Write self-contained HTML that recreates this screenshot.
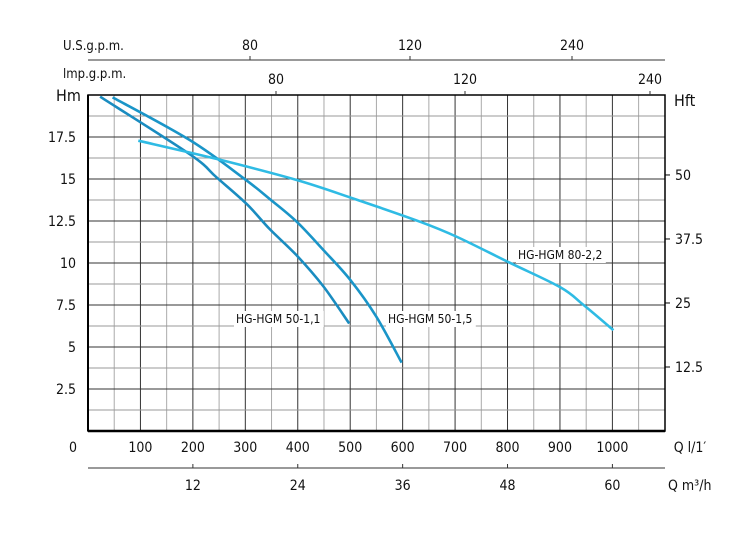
<!DOCTYPE html>
<html><head><meta charset="utf-8"><style>
body{margin:0;background:#fff}
svg{display:block;font-family:"DejaVu Sans Condensed","Liberation Sans",sans-serif}
</style></head><body>
<svg width="750" height="534" viewBox="0 0 750 534">
<g id="grid"></g><g id="axes"></g><g id="curves"></g><g id="labels"></g>
</svg>
<script>
const xTicks=[100,200,300,400,500,600,700,800,900,1000];
const yTicks=[2.5,5,7.5,10,12.5,15,17.5];
const hftTicks=[12.5,25,37.5,50];
const m3hTicks=[12,24,36,48,60];
const usgpmTicks=["80","120","240"];
const impgpmTicks=["80","120","240"];
const seriesNames=["HG-HGM 50-1,1","HG-HGM 50-1,5","HG-HGM 80-2,2"];
const s1Q=[23,195,245,303,347,398,449,498];
const s1H=[19.9,16.45,15.1,13.5,12.0,10.45,8.6,6.4];
const s2Q=[47,195,297,347,398,449,500,550,598];
const s2H=[19.86,17.3,15.04,13.8,12.46,10.77,9.0,6.8,4.07];
const s3Q=[96,248,398,500,633,704,802,901,945,1002];
const s3H=[17.28,16.17,14.94,13.9,12.46,11.55,10.05,8.55,7.5,6.0];
const L=88,R=665,T=95,B=431;
const X=q=>L+q*0.5244;
const Y=h=>B-h*16.8;
const NS="http://www.w3.org/2000/svg";
function mk(tag,attrs,parent,txt){const e=document.createElementNS(NS,tag);for(const k in attrs)e.setAttribute(k,attrs[k]);if(txt!==undefined)e.textContent=txt;document.getElementById(parent).appendChild(e);return e;}
for(let q=50;q<1100;q+=50){
 const g=mk('line',{x1:X(q),x2:X(q),y1:T,y2:B,stroke:q%100===0?'#333':'#aaa','stroke-width':1},'grid');
 
 
}
for(let i=1;i<16;i++){
 const h=i*1.25;
 const g=mk('line',{x1:L,x2:R,y1:Y(h),y2:Y(h),stroke:i%2===0?'#333':'#999','stroke-width':1},'grid');
 
 
}
const fr=mk('rect',{x:L,y:T,width:R-L,height:B-T,fill:'none',stroke:'#000','stroke-width':1.5},'axes');


const bl=mk('line',{x1:L,x2:R,y1:B,y2:B,stroke:'#000','stroke-width':2.5},'axes');


const ll=mk('line',{x1:L,x2:L,y1:T,y2:B,stroke:'#000','stroke-width':2},'axes');


const tl=mk('line',{x1:88,x2:665,y1:60,y2:60,stroke:'#333','stroke-width':1},'axes');


const bml=mk('line',{x1:88,x2:665,y1:468,y2:468,stroke:'#333','stroke-width':1},'axes');


function txt(x,y,s,anchor,name,size){const t=mk('text',{x:x,y:y,'text-anchor':anchor,fill:'#111','font-size':size||14},'labels',s);return t;}
xTicks.forEach(q=>txt(X(q),452,q,'middle','x-tick-label'));
txt(73,452,'0','middle','x-tick-label');
txt(690,452,'Q l/1\u2032','middle','x-axis-title');
yTicks.forEach(h=>txt(76,Y(h)+5,h,'end','y-tick-label'));
txt(56,101,'Hm','start','y-axis-title',16);
hftTicks.forEach(f=>{const y=B-f*0.3048*16.8;
 const tk=mk('line',{x1:R,x2:R+5,y1:y,y2:y,stroke:'#000'},'axes');
 
 
 txt(675,y+5,f,'start','hft-tick-label');});
txt(674,106,'Hft','start','hft-axis-title',16);
m3hTicks.forEach((v,i)=>{const tk=mk('line',{x1:X(v*1000/60),x2:X(v*1000/60),y1:464,y2:468,stroke:'#333'},'axes');
 
 
 txt(X(v*1000/60),490,v,'middle','m3h-tick-label');});
txt(668,490,'Q m\u00b3/h','start','m3h-axis-title');
const usPos=[250,410,572],impPos=[276,465,650];
usgpmTicks.forEach((v,i)=>{const tk=mk('line',{x1:usPos[i],x2:usPos[i],y1:56,y2:60,stroke:'#333'},'axes');
 
 
 txt(usPos[i],50,v,'middle','usgpm-tick-label');});
impgpmTicks.forEach((v,i)=>{const tk=mk('line',{x1:impPos[i],x2:impPos[i],y1:91,y2:95,stroke:'#333'},'axes');
 
 
 txt(impPos[i],84,v,'middle','impgpm-tick-label');});
txt(63,50,'U.S.g.p.m.','start','usgpm-axis-title',13);
txt(63,78,'lmp.g.p.m.','start','impgpm-axis-title',13);
function curve(Q,H,col,name){
 const P=Q.map((q,i)=>[X(q),Y(H[i])]);
 let d='M'+P[0][0].toFixed(1)+','+P[0][1].toFixed(1);
 for(let i=0;i<P.length-1;i++){
  const p0=P[i-1]||P[i],p1=P[i],p2=P[i+1],p3=P[i+2]||P[i+1];
  const c1=[p1[0]+(p2[0]-p0[0])/6,p1[1]+(p2[1]-p0[1])/6];
  const c2=[p2[0]-(p3[0]-p1[0])/6,p2[1]-(p3[1]-p1[1])/6];
  d+='C'+c1[0].toFixed(1)+','+c1[1].toFixed(1)+' '+c2[0].toFixed(1)+','+c2[1].toFixed(1)+' '+p2[0].toFixed(1)+','+p2[1].toFixed(1);
 }
 const p=mk('path',{d:d,fill:'none',stroke:col,'stroke-width':2.6,'stroke-linejoin':'round'},'curves');
 
 
}
curve(s1Q,s1H,'#1a8cc0','curve-50-1-1');
curve(s2Q,s2H,'#1a95c8','curve-50-1-5');
curve(s3Q,s3H,'#2fbbe4','curve-80-2-2');
function lab(x,y,s,name){const r=mk('rect',{x:x-2,y:y-12,width:s.length*6.6+4,height:16,fill:'#fff'},'labels');
 
 
 txt(x,y,s,'start',name,12);}
lab(236,323,seriesNames[0],'label-50-1-1');
lab(388,323,seriesNames[1],'label-50-1-5');
lab(518,259,seriesNames[2],'label-80-2-2');
</script>
</body></html>
